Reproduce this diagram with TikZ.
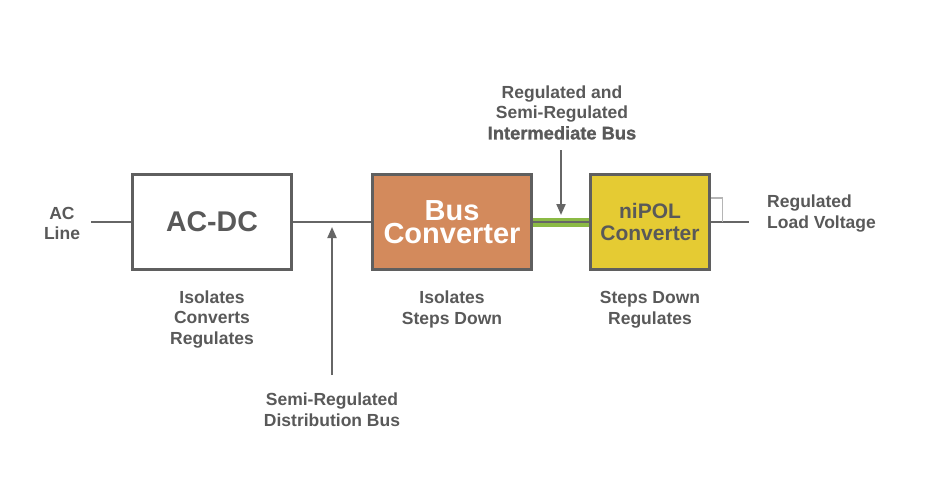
\documentclass[tikz,border=0pt]{standalone}
\usepackage{fontspec}
\setmainfont{Liberation Sans}
\newfontfamily\heavyfont[FakeBold=1.2]{Liberation Sans Bold}
\usetikzlibrary{arrows.meta}
\definecolor{txt}{HTML}{595959}
\definecolor{boxgray}{HTML}{5F5F5F}
\definecolor{linegray}{HTML}{666666}
\definecolor{busfill}{HTML}{D38A5C}
\definecolor{polfill}{HTML}{E5CB33}
\definecolor{busgreen}{HTML}{8BBA45}
\definecolor{brkgray}{HTML}{B5B5B5}
\begin{document}
\begin{tikzpicture}[x=1pt,y=-1pt,
  box/.style={draw=boxgray, line width=3pt, minimum width=159pt, minimum height=95pt,
    inner sep=0pt, align=center, font=\bfseries\fontsize{28.5}{22}\selectfont},
  lbl/.style={text=txt, inner sep=0pt, align=center, font=\bfseries\fontsize{17.5}{20.7}\selectfont},
  wire/.style={draw=linegray, line width=2pt},
  brk/.style={draw=brkgray, line width=1.8pt},
  arr/.style={draw=linegray, line width=2pt, -{Triangle[length=11pt,width=9pt]}}]
\useasboundingbox[fill=white] (0,0) rectangle (936,501);
% blocks
\node[box, fill=white, text=txt] (acdc) at (212,222) {AC-DC};
\node[box, fill=busfill, text=white, font=\bfseries\fontsize{29}{23.5}\selectfont] (bus) at (452,222) {Bus\\Converter};
\node[box, fill=polfill, text=txt, minimum width=119pt, font=\bfseries\fontsize{21}{22.5}\selectfont] (pol) at (650,222) {\raisebox{-1pt}{niPOL}\\\raisebox{-1pt}{Converter}};
% connectors
\coordinate (acin) at (91,222);
\coordinate (out) at (749,222);
\coordinate (bk) at (722.5,198);
\draw[wire] (acin) -- (acdc.west);
\draw[wire] (acdc.east) -- (bus.west);
\draw[busgreen, line width=9pt] (bus.east) -- (pol.west);
\draw[linegray, line width=1.5pt] (bus.east) -- (pol.west);
\draw[wire] (pol.east) -- (out);
\draw[brk] (bk -| pol.east) -- (bk) -- (bk |- out);
% arrows
\coordinate (dtail) at (332,375);
\coordinate (dtip) at (332,227);
\coordinate (itail) at (561,150);
\coordinate (itip) at (561,215);
\draw[arr] (dtail) -- (dtip);
\draw[arr] (itail) -- (itip);
% labels
\node[lbl] (acl) at (62,223.5) {AC\\Line};
\node[lbl] (acdcl) at (212,319.4) {Isolates\\Converts\\Regulates};
\node[lbl] (busl) at (452,309.4) {Isolates\\Steps Down};
\node[lbl] (poll) at (650,309.4) {Steps Down\\Regulates};
\node[lbl] (distl) at (332,409.5) {Semi-Regulated\\Distribution Bus};
\node[lbl] (intl) at (562,112.5) {Regulated and\\Semi-Regulated\\{\heavyfont\fontsize{18.3}{20.7}\selectfont Intermediate Bus}};
\node[lbl, anchor=west, align=left] (outl) at (767,213.8) {Regulated\\Load Voltage};
\end{tikzpicture}
\end{document}
